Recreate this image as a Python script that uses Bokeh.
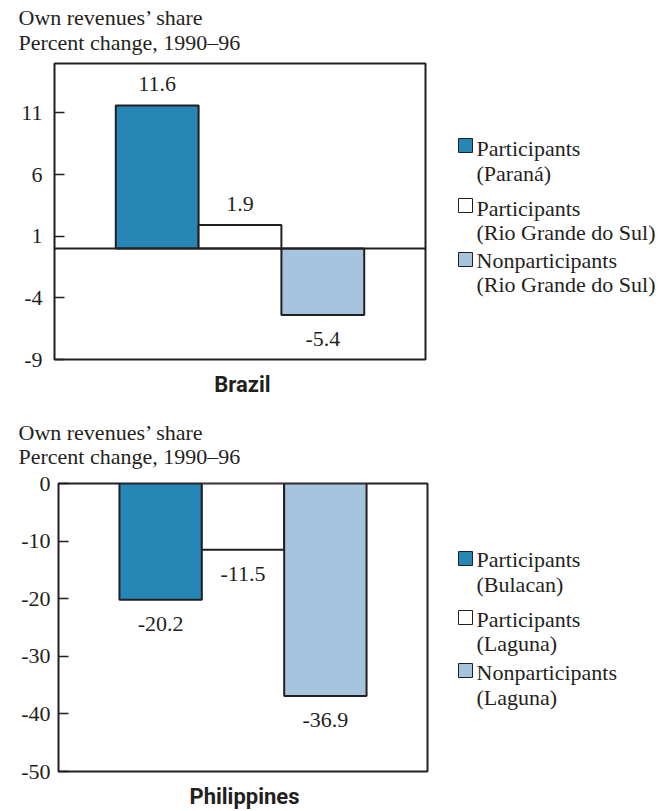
import numpy as np
from bokeh.plotting import figure
from bokeh.models import Range1d, FixedTicker, Span
from bokeh.layouts import column, row
from bokeh.embed import file_html
from bokeh.resources import INLINE
from bokeh.core.properties import value

# ---------------- data ----------------
title_line1 = "Own revenues’ share"
title_line2 = "Percent change, 1990–96"

br_country = "Brazil"
br_names1 = ["Participants", "Participants", "Nonparticipants"]
br_names2 = ["(Paraná)", "(Rio Grande do Sul)", "(Rio Grande do Sul)"]
br_values = [11.6, 1.9, -5.4]
br_ticks = [-9, -4, 1, 6, 11]

ph_country = "Philippines"
ph_names1 = ["Participants", "Participants", "Nonparticipants"]
ph_names2 = ["(Bulacan)", "(Laguna)", "(Laguna)"]
ph_values = [-20.2, -11.5, -36.9]
ph_ticks = [-50, -40, -30, -20, -10, 0]

bar_colors = ["#2687b7", "#ffffff", "#a7c4de"]

# ---------------- styles / geometry (page pixels) ----------------
INK = "#231f20"
SERIF = "Liberation Serif"
SANSB = "Roboto"
FS = "22px"
PAGE_W = 666
MAIN_W = 448
LEG_W = PAGE_W - MAIN_W
XR = (-0.24, 4.24)


def blank(top, bottom, width=PAGE_W):
    """A figure whose frame is the whole canvas, in page pixel coordinates."""
    h = bottom - top
    p = figure(width=width, height=h, x_range=Range1d(0, width), y_range=Range1d(bottom, top),
               output_backend="svg", toolbar_location=None, x_axis_location=None,
               y_axis_location=None, min_border=0)
    p.grid.visible = False
    p.outline_line_color = None
    p.background_fill_color = "white"
    p.border_fill_color = "white"
    return p


def add_text(p, xs, ys, texts, align="left", font=SERIF, size=FS, style="normal"):
    p.text(x=xs, y=ys, text=texts, text_align=align, text_baseline="middle",
           text_font=value(font), text_font_size=size, text_font_style=style,
           text_color=INK)


def make_chart(vals, ticks, yr, fig_top, fig_bottom, frame_left, frame_w,
               frame_top, frame_h, standoff, zero_line):
    mb = dict(min_border_left=frame_left, min_border_right=MAIN_W - frame_left - frame_w,
              min_border_top=frame_top - fig_top,
              min_border_bottom=fig_bottom - frame_top - frame_h)
    p = figure(width=MAIN_W, height=fig_bottom - fig_top, x_range=Range1d(*XR),
               y_range=Range1d(*yr), output_backend="svg", toolbar_location=None,
               x_axis_location=None, **mb)
    p.grid.visible = False
    p.outline_line_color = INK
    p.outline_line_width = 2
    p.background_fill_color = "white"
    p.border_fill_color = "white"

    ax = p.yaxis[0]
    ax.ticker = FixedTicker(ticks=ticks)
    ax.major_label_overrides = {t: f"{t:d}" for t in ticks}
    ax.axis_line_color = None
    ax.major_tick_in = 10
    ax.major_tick_out = 0
    ax.minor_tick_line_color = None
    ax.major_tick_line_color = INK
    ax.major_tick_line_width = 1.5
    ax.major_label_standoff = standoff
    ax.major_label_text_font = SERIF
    ax.major_label_text_font_size = FS
    ax.major_label_text_color = INK

    ppu = frame_h / (yr[1] - yr[0])
    xs = np.arange(1, len(vals) + 1)
    p.vbar(x=xs, top=vals, bottom=0, width=1.0, fill_color=bar_colors,
           line_color=INK, line_width=2)
    if zero_line:
        p.add_layout(Span(location=0, dimension="width", line_color=INK, line_width=2))

    ys = [v + (21.5 / ppu if v > 0 else -24 / ppu) for v in vals]
    add_text(p, xs, ys, [f"{v:.1f}" for v in vals], align="center")
    return p, mb


def make_legend(names1, names2, fig_top, fig_bottom, mb, frame_top, frame_h,
                sq_centers, line_centers):
    p = figure(width=LEG_W, height=fig_bottom - fig_top, x_range=Range1d(0, LEG_W),
               y_range=Range1d(frame_top + frame_h, frame_top), output_backend="svg",
               toolbar_location=None, x_axis_location=None, y_axis_location=None,
               min_border_left=0, min_border_right=0,
               min_border_top=mb["min_border_top"], min_border_bottom=mb["min_border_bottom"])
    p.grid.visible = False
    p.outline_line_color = None
    p.background_fill_color = "white"
    p.border_fill_color = "white"
    x0 = MAIN_W
    p.scatter(x=[465 - x0] * len(names1), y=sq_centers, marker="square", size=14,
              fill_color=bar_colors, line_color=INK, line_width=1)
    texts = []
    for a, b in zip(names1, names2):
        texts += [a, b]
    add_text(p, [476 - x0] * len(texts), line_centers, texts)
    return p


# title of the first chart
t1 = blank(0, 55)
add_text(t1, [18, 18], [17, 41.5], [title_line1, title_line2])

# Brazil chart
top, top_mb = make_chart(br_values, br_ticks, (-9, 15), fig_top=55, fig_bottom=372,
                         frame_left=54, frame_w=371, frame_top=63, frame_h=296,
                         standoff=12, zero_line=True)
top_leg = make_legend(br_names1, br_names2, 55, 372, top_mb, 63, 296, [145, 205, 259],
                      [148, 173, 208, 232, 260, 284])

# country label of the first chart + title of the second chart
g = blank(372, 470)
add_text(g, [242], [384], [br_country], align="center", font=SANSB, style="bold")
add_text(g, [18, 18], [432, 456], [title_line1, title_line2])

# Philippines chart
bot, bot_mb = make_chart(ph_values, ph_ticks, (-50, 0), fig_top=470, fig_bottom=783,
                         frame_left=58, frame_w=369, frame_top=483, frame_h=288,
                         standoff=8, zero_line=False)
bot_leg = make_legend(ph_names1, ph_names2, 470, 783, bot_mb, 483, 288, [558, 617, 670],
                      [559, 584, 619, 643, 672, 697])

c2 = blank(783, 810)
add_text(c2, [244], [796], [ph_country], align="center", font=SANSB, style="bold")

layout = column(t1, row(top, top_leg), g, row(bot, bot_leg), c2)
open("out.html", "w").write(file_html(layout, INLINE))
